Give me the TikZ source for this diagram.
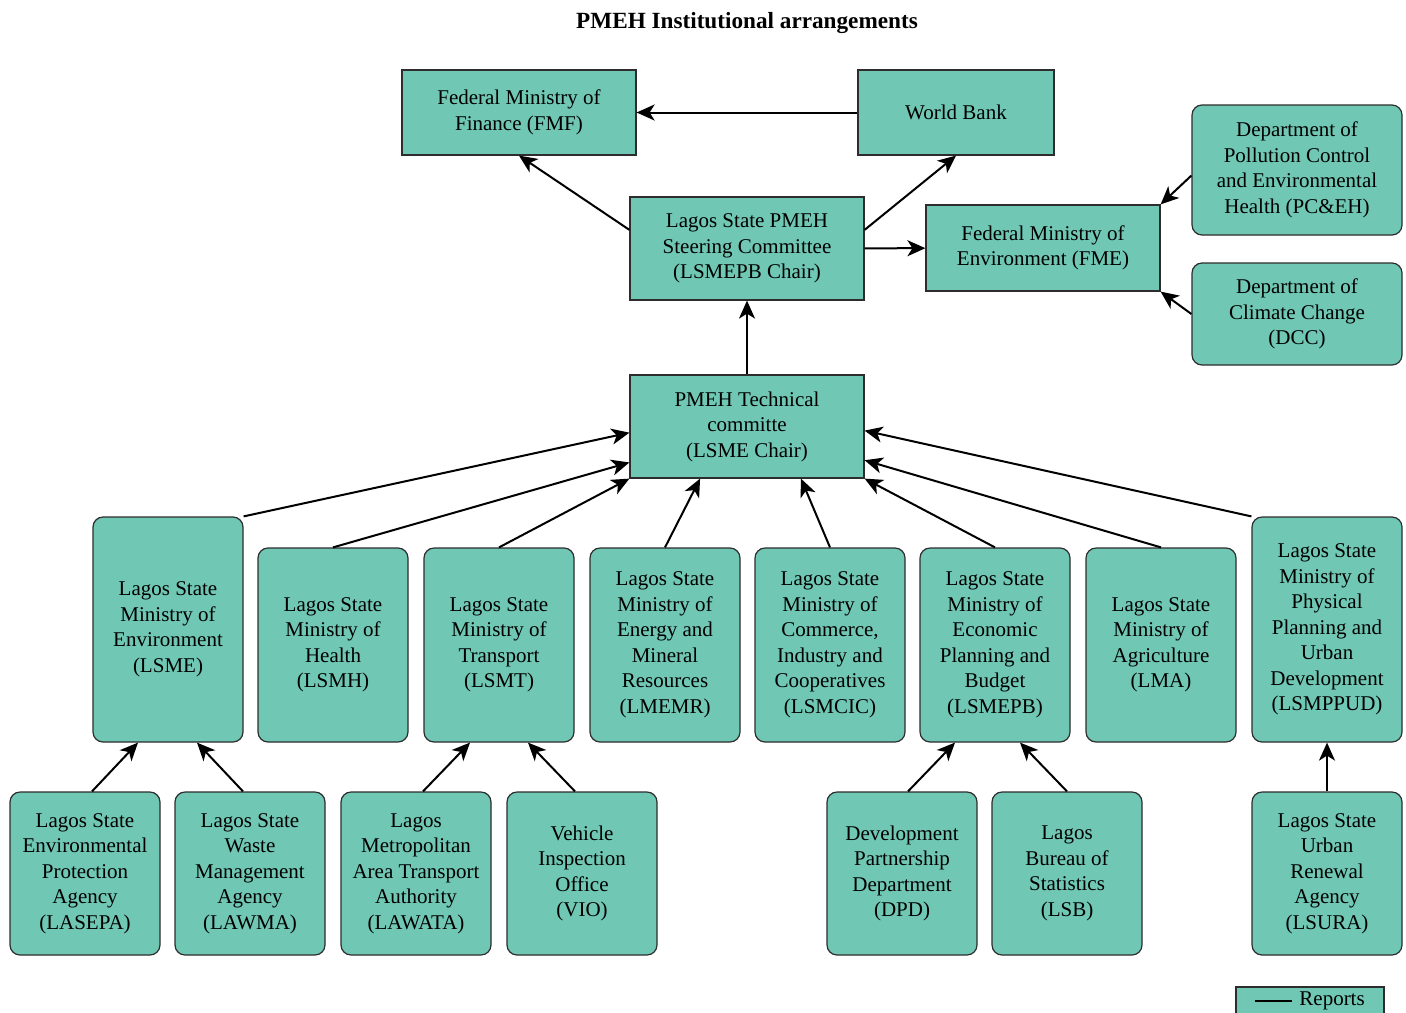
\documentclass[tikz,border=0pt]{standalone}
\usepackage{fontspec}
\setmainfont{Liberation Serif}
\usepackage{tikz}
\usetikzlibrary{arrows.meta,calc}

\definecolor{pmehteal}{RGB}{111,199,180}
\definecolor{pmehedge}{RGB}{45,45,45}

\tikzset{
  orgbox/.style={draw=pmehedge, fill=pmehteal, line width=0.6pt, align=center,
    inner sep=2pt, font=\fontsize{10.5}{12.75}\selectfont},
  orgrbox/.style={orgbox, rounded corners=5pt},
  reports/.style={line width=1pt, -{Stealth[length=9pt,width=8pt,inset=2.5pt]}},
}

\begin{document}
\begin{tikzpicture}[x=0.5pt, y=-0.5pt]
    \useasboundingbox (0,0) rectangle (1406,1012);
    \node[font=\fontsize{11.6}{14}\selectfont\bfseries] (title) at (747,23) {PMEH Institutional arrangements};

    % top level
    \node[orgbox, minimum width=117pt, minimum height=42.5pt] (fmf) at (519,112.5) {Federal Ministry of\\Finance (FMF)};
    \node[orgbox, minimum width=98pt, minimum height=42.5pt] (wb) at (956,112.5) {World Bank};
    \node[orgbox, minimum width=117pt, minimum height=51.5pt] (steer) at (747,248.5) {Lagos State PMEH\\Steering Committee\\(LSMEPB Chair)};
    \node[orgbox, minimum width=117pt, minimum height=43pt] (fme) at (1043,248) {Federal Ministry of\\Environment (FME)};
    \node[orgrbox, minimum width=105pt, minimum height=65pt] (pceh) at (1297,170) {Department of\\Pollution Control\\and Environmental\\Health (PC\&EH)};
    \node[orgrbox, minimum width=105pt, minimum height=51pt] (dcc) at (1297,314) {Department of\\Climate Change\\(DCC)};
    \node[orgbox, minimum width=117pt, minimum height=51.5pt] (tech) at (747,426.5) {PMEH Technical\\committe\\(LSME Chair)};

    % ministries
    \node[orgrbox, minimum width=75pt, minimum height=112.5pt] (lsme) at (168,629.5) {Lagos State\\Ministry of\\Environment\\(LSME)};
    \node[orgrbox, minimum width=75pt, minimum height=97pt] (lsmh) at (333,645) {Lagos State\\Ministry of\\Health\\(LSMH)};
    \node[orgrbox, minimum width=75pt, minimum height=97pt] (lsmt) at (499,645) {Lagos State\\Ministry of\\Transport\\(LSMT)};
    \node[orgrbox, minimum width=75pt, minimum height=97pt] (lmemr) at (665,645) {Lagos State\\Ministry of\\Energy and\\Mineral\\Resources\\(LMEMR)};
    \node[orgrbox, minimum width=75pt, minimum height=97pt] (lsmcic) at (830,645) {Lagos State\\Ministry of\\Commerce,\\Industry and\\Cooperatives\\(LSMCIC)};
    \node[orgrbox, minimum width=75pt, minimum height=97pt] (lsmepb) at (995,645) {Lagos State\\Ministry of\\Economic\\Planning and\\Budget\\(LSMEPB)};
    \node[orgrbox, minimum width=75pt, minimum height=97pt] (lma) at (1161,645) {Lagos State\\Ministry of\\Agriculture\\(LMA)};
    \node[orgrbox, minimum width=75pt, minimum height=112.5pt] (lsmppud) at (1327,629.5) {Lagos State\\Ministry of\\Physical\\Planning and\\Urban\\Development\\(LSMPPUD)};

    % agencies
    \node[orgrbox, minimum width=75pt, minimum height=81.5pt] (lasepa) at (85,873.5) {Lagos State\\Environmental\\Protection\\Agency\\(LASEPA)};
    \node[orgrbox, minimum width=75pt, minimum height=81.5pt] (lawma) at (250,873.5) {Lagos State\\Waste\\Management\\Agency\\(LAWMA)};
    \node[orgrbox, minimum width=75pt, minimum height=81.5pt] (lawata) at (416,873.5) {Lagos\\Metropolitan\\Area Transport\\Authority\\(LAWATA)};
    \node[orgrbox, minimum width=75pt, minimum height=81.5pt] (vio) at (582,873.5) {Vehicle\\Inspection\\Office\\(VIO)};
    \node[orgrbox, minimum width=75pt, minimum height=81.5pt] (dpd) at (902,873.5) {Development\\Partnership\\Department\\(DPD)};
    \node[orgrbox, minimum width=75pt, minimum height=81.5pt] (lsb) at (1067,873.5) {Lagos\\Bureau of\\Statistics\\(LSB)};
    \node[orgrbox, minimum width=75pt, minimum height=81.5pt] (lsura) at (1327,873.5) {Lagos State\\Urban\\Renewal\\Agency\\(LSURA)};

    % reporting lines
    \draw[reports] (wb) -- (fmf);
    \draw[reports] (steer.171) -- (fmf.south);
    \draw[reports] (steer.9) -- (wb.south);
    \draw[reports] (steer) -- (fme);
    \draw[reports] (pceh.183) -- (fme.north east);
    \draw[reports] (dcc.west) -- (fme.south east);
    \draw[reports] (tech) -- (steer);

    \draw[reports] (lsme.north east) -- (tech.183);
    \draw[reports] (lsmh.north) -- (tech.197);
    \draw[reports] (lsmt.north) -- (tech.south west);
    \draw[reports] (lmemr.north) -- (tech.228);
    \draw[reports] (lsmcic.north) -- (tech.316);
    \draw[reports] (lsmepb.north) -- (tech.south east);
    \draw[reports] (lma.north) -- (tech.344);
    \draw[reports] (lsmppud.north west) -- (tech.358);

    \draw[reports] ($(lasepa.north)+(7,0)$) -- ($(lsme.south)+(-30,0)$);
    \draw[reports] ($(lawma.north)+(-7,0)$) -- ($(lsme.south)+(29,0)$);
    \draw[reports] ($(lawata.north)+(7,0)$) -- ($(lsmt.south)+(-29,0)$);
    \draw[reports] ($(vio.north)+(-7,0)$) -- ($(lsmt.south)+(29,0)$);
    \draw[reports] ($(dpd.north)+(6,0)$) -- ($(lsmepb.south)+(-40,0)$);
    \draw[reports] (lsb.north) -- ($(lsmepb.south)+(25,0)$);
    \draw[reports] (lsura) -- (lsmppud);

    % legend
    \node[draw=pmehedge, fill=pmehteal, line width=0.6pt, minimum width=74pt, minimum height=17.5pt] (legend) at (1310,1004.5) {};
    \coordinate (lega) at (1255,1001);
    \coordinate (legb) at (1292,1001);
    \draw[line width=1pt] (lega) -- (legb);
    \node[anchor=west, inner sep=0pt, font=\fontsize{10.5}{12.75}\selectfont] (legtext) at (1299,1001) {Reports};
\end{tikzpicture}
\end{document}
